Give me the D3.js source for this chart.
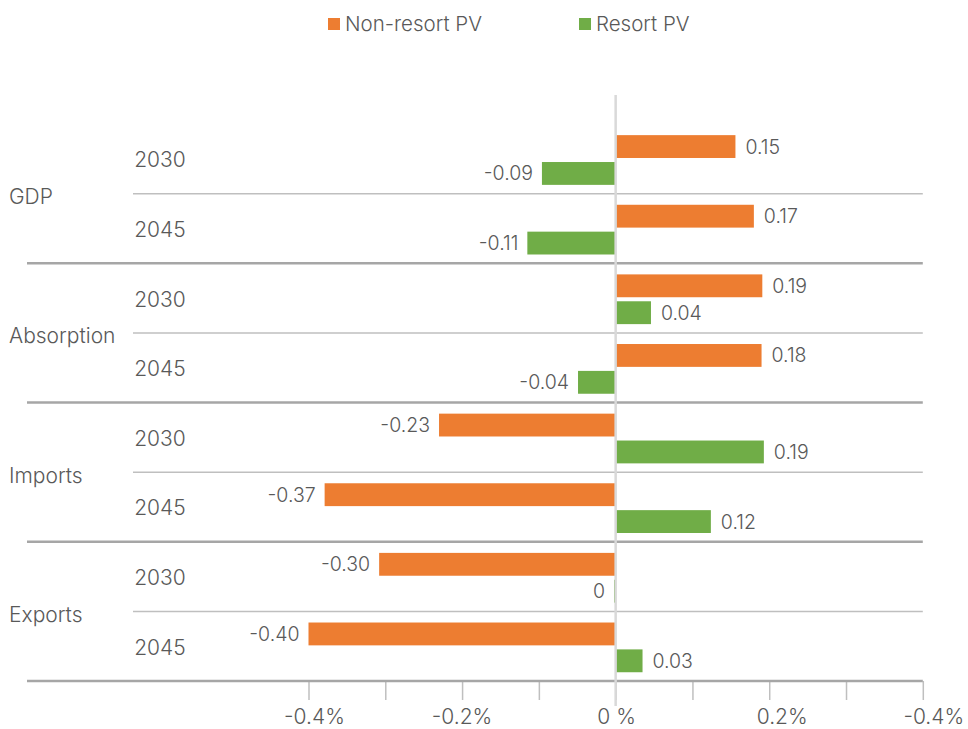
<!DOCTYPE html>
<html>
<head>
<meta charset="utf-8">
<script src="https://cdn.jsdelivr.net/npm/d3@7"></script>
<style>
  body { margin: 0; background: #fff; }
  text { font-family: Inter, "Open Sans", sans-serif; font-weight: 300; fill: #595959; }
</style>
</head>
<body>
<div id="chart-area"></div>
<script>
// data
var groups = ["GDP", "Absorption", "Imports", "Exports"];
var years = ["2030", "2045"];
var series = ["Non-resort PV", "Resort PV"];
// bar lengths, row order: GDP 2030, GDP 2045, Absorption 2030, ...
var nonResort = [0.156, 0.180, 0.191, 0.190, -0.230, -0.379, -0.308, -0.400];
var resort = [-0.096, -0.115, 0.046, -0.049, 0.193, 0.124, -0.002, 0.035];
// data labels as printed
var nonResortLabels = ["0.15", "0.17", "0.19", "0.18", "-0.23", "-0.37", "-0.30", "-0.40"];
var resortLabels = ["-0.09", "-0.11", "0.04", "-0.04", "0.19", "0.12", "0", "0.03"];
var tickValues = [-0.4, -0.3, -0.2, -0.1, 0, 0.1, 0.2, 0.3, 0.4];
var labelValues = [-0.4, -0.2, 0, 0.2, 0.4];
var tickLabels = ["-0.4%", "-0.2%", "0 %", "0.2%", "-0.4%"];

var colors = { "Non-resort PV": "#ED7D31", "Resort PV": "#70AD47" };
// small nudges of the axis labels, as in the original
var labelShift = [6, 0, 1, 13, 11];

var width = 968, height = 729;

var svg = d3.select("#chart-area")
    .append("svg")
        .attr("width", width)
        .attr("height", height);

// rows
var rows = [];
groups.forEach(function(g, gi) {
    years.forEach(function(yr, yi) {
        var i = gi * 2 + yi;
        rows.push({
            key: g + "|" + yr, group: g, year: yr,
            values: [
                { series: series[0], value: nonResort[i], label: nonResortLabels[i] },
                { series: series[1], value: resort[i], label: resortLabels[i] }
            ]
        });
    });
});

// Scales
var x = d3.scaleLinear()
    .domain([-0.4, 0.4])
    .range([308.5, 922.8]);

var y = d3.scaleBand()
    .domain(rows.map(function(d) { return d.key; }))
    .range([124, 681]);

var ySub = d3.scaleBand()
    .domain(series)
    .range([0, y.bandwidth()])
    .paddingInner(0.15)
    .paddingOuter(0.37)
    .align(0.56);

// grid lines between years
svg.selectAll(".sub-line")
    .data(rows.filter(function(d) { return d.year == "2045"; }))
    .enter().append("line")
        .attr("class", "sub-line")
        .attr("x1", 133).attr("x2", x(0.4))
        .attr("y1", function(d) { return y(d.key); })
        .attr("y2", function(d) { return y(d.key); })
        .attr("stroke", "#BFBFBF")
        .attr("stroke-width", 1.5);

// lines between groups
svg.selectAll(".group-line")
    .data(rows.filter(function(d, i) { return d.year == "2030" && i > 0; }))
    .enter().append("line")
        .attr("class", "group-line")
        .attr("x1", 27).attr("x2", x(0.4))
        .attr("y1", function(d) { return y(d.key); })
        .attr("y2", function(d) { return y(d.key); })
        .attr("stroke", "#A6A6A6")
        .attr("stroke-width", 2.5);

// X Axis
var xAxisCall = d3.axisBottom(x)
    .tickValues(tickValues)
    .tickSize(19)
    .tickFormat("");
var xAxis = svg.append("g")
    .attr("class", "x axis")
    .attr("transform", "translate(0," + 681 + ")")
    .call(xAxisCall);
xAxis.select(".domain").remove();
xAxis.selectAll(".tick line")
    .attr("stroke", "#BFBFBF")
    .attr("stroke-width", 1.5);

svg.append("line")
    .attr("x1", 27).attr("x2", x(0.4))
    .attr("y1", 681).attr("y2", 681)
    .attr("stroke", "#A6A6A6")
    .attr("stroke-width", 2.5);

svg.selectAll(".x-label")
    .data(labelValues)
    .enter().append("text")
        .attr("class", "x-label")
        .attr("x", function(d, i) { return x(d) + labelShift[i]; })
        .attr("y", 724)
        .attr("text-anchor", "middle")
        .attr("font-size", "21px")
        .text(function(d, i) { return tickLabels[i]; });

// Bars
var rowG = svg.selectAll(".row")
    .data(rows)
    .enter().append("g")
        .attr("class", "row")
        .attr("transform", function(d) { return "translate(0," + y(d.key) + ")"; });

rowG.selectAll("rect")
    .data(function(d) { return d.values; })
    .enter().append("rect")
        .attr("x", function(d) { return x(Math.min(0, d.value)); })
        .attr("width", function(d) { return Math.abs(x(d.value) - x(0)); })
        .attr("y", function(d) { return ySub(d.series); })
        .attr("height", ySub.bandwidth())
        .attr("fill", function(d) { return colors[d.series]; });

rowG.selectAll(".value")
    .data(function(d) { return d.values; })
    .enter().append("text")
        .attr("class", "value")
        .attr("x", function(d) { return d.value < 0 ? x(d.value) - 9 : x(d.value) + 10; })
        .attr("y", function(d) { return ySub(d.series) + ySub.bandwidth() / 2; })
        .attr("dy", "0.36em")
        .attr("text-anchor", function(d) { return d.value < 0 ? "end" : "start"; })
        .attr("font-size", "19.5px")
        .text(function(d) { return d.label; });

// zero line on top
svg.append("line")
    .attr("x1", x(0)).attr("x2", x(0))
    .attr("y1", 95).attr("y2", 706)
    .attr("stroke", "#D9D9D9")
    .attr("stroke-width", 2.5);

// Labels
svg.selectAll(".year-label")
    .data(rows)
    .enter().append("text")
        .attr("class", "year-label")
        .attr("x", 160)
        .attr("y", function(d) { return y(d.key) + y.bandwidth() / 2 + 1; })
        .attr("dy", "0.36em")
        .attr("text-anchor", "middle")
        .attr("font-size", "21px")
        .text(function(d) { return d.year; });

svg.selectAll(".group-label")
    .data(groups)
    .enter().append("text")
        .attr("class", "group-label")
        .attr("x", 9)
        .attr("y", function(d) { return y(d + "|2030") + y.step() + 3; })
        .attr("dy", "0.36em")
        .attr("font-size", "21px")
        .text(function(d) { return d; });

// Legend
var legendX = [328, 579];
series.forEach(function(s, i) {
    var legendRow = svg.append("g")
        .attr("transform", "translate(" + legendX[i] + ",18)");
    legendRow.append("rect")
        .attr("width", 12)
        .attr("height", 12)
        .attr("fill", colors[s]);
    legendRow.append("text")
        .attr("x", 17)
        .attr("y", 13)
        .attr("font-size", "20.5px")
        .text(s);
});
</script>
</body>
</html>
